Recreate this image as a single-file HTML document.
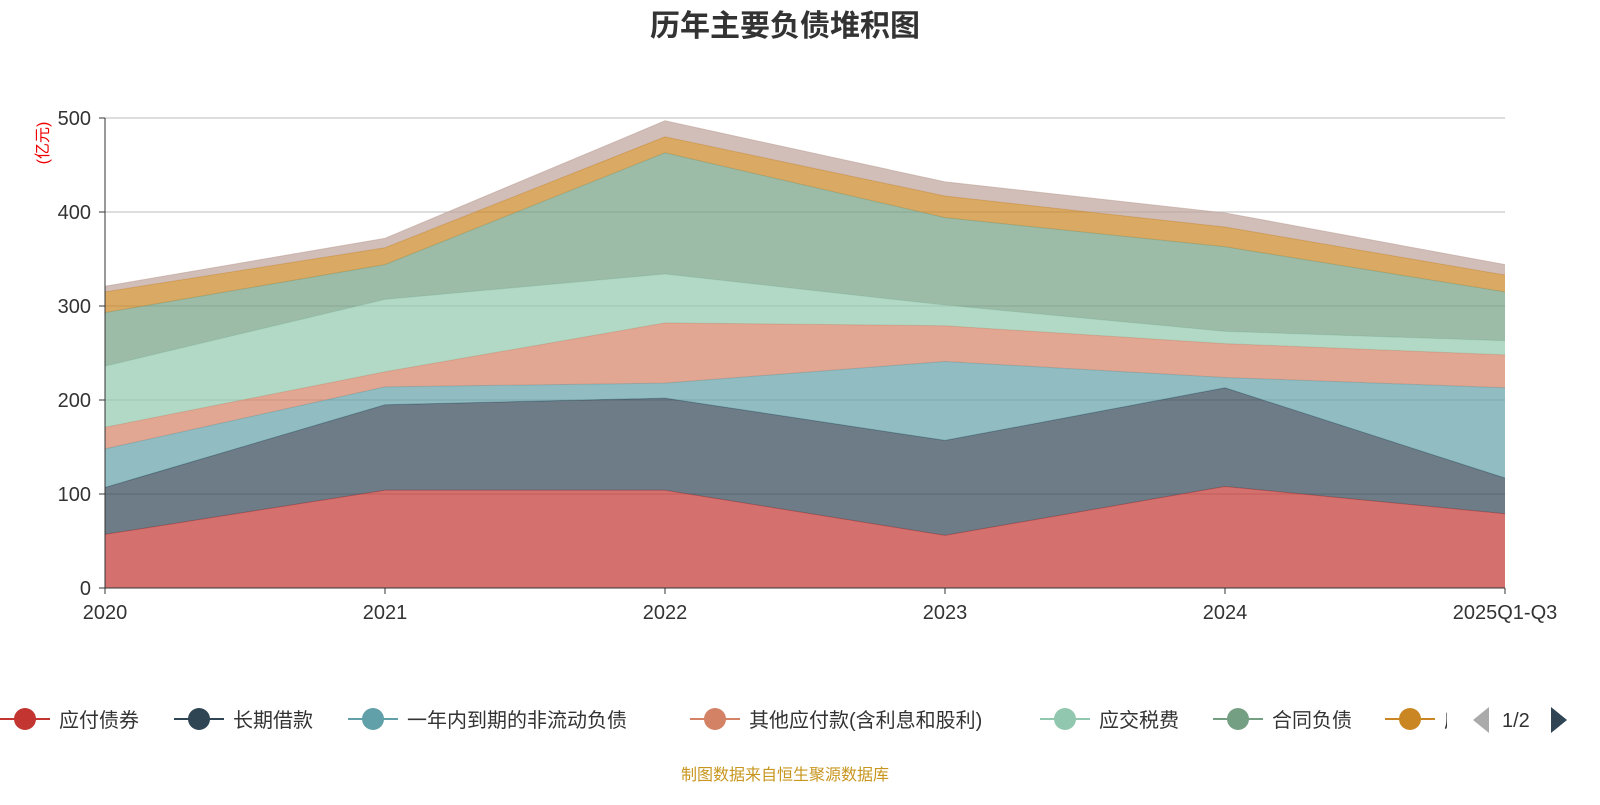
<!DOCTYPE html>
<html><head><meta charset="utf-8"><style>
body{margin:0;background:#fff;font-family:"Liberation Sans","Noto Sans CJK SC",sans-serif}
svg text{font-family:"Liberation Sans","Noto Sans CJK SC",sans-serif}
</style></head><body>
<svg id="c" width="1600" height="800">
<text x="785" y="36" text-anchor="middle" font-size="30" font-weight="bold" fill="#333">历年主要负债堆积图</text>
<text transform="translate(48,143) rotate(-90)" text-anchor="middle" font-size="16" fill="#e00">(亿元)</text>
<g id="grid"></g><g id="areas"></g><g id="axes"></g>
<g id="legend"></g>
<text x="785" y="780" text-anchor="middle" font-size="16" fill="#c8961e">制图数据来自恒生聚源数据库</text>
</svg>
<script>
const categories=["2020","2021","2022","2023","2024","2025Q1-Q3"];
const seriesNames=["应付债券","长期借款","一年内到期的非流动负债","其他应付款(含利息和股利)","应交税费","合同负债","应付账款","其他"];
const s1=[57,104,104,56,108,79];
const s2=[50,91,98,101,105,38];
const s3=[41,19,16,84,11,96];
const s4=[23,16,64,38,36,35];
const s5=[65,77,52,22,13,15];
const s6=[57,37,129,93,90,52];
const s7=[22,18,17,23,21,18];
const s8=[6,10,17,15,15,11];
const yTicks=[0,100,200,300,400,500];
const series=[s1,s2,s3,s4,s5,s6,s7,s8];
const colors=["#c23531","#2f4554","#61a0a8","#d48265","#91c7ae","#749f83","#ca8622","#bda29a"];
const NS="http://www.w3.org/2000/svg";
const X0=105,X1=1505,Y0=588,Y1=118;
const xs=i=>X0+i*(X1-X0)/(categories.length-1);
const ys=v=>Y0-v*(Y0-Y1)/500;
function mk(t,a,p){const e=document.createElementNS(NS,t);for(const k in a)e.setAttribute(k,a[k]);p.appendChild(e);return e;}
const grid=document.getElementById('grid'),axes=document.getElementById('axes'),areas=document.getElementById('areas');
yTicks.forEach(v=>{
 const l=mk('line',{x1:X0,x2:X1,y1:ys(v),y2:ys(v),stroke:'#bbb'},grid);
 
 
 const t=mk('text',{x:X0-14,y:ys(v)+7,'text-anchor':'end','font-size':20,fill:'#333'},axes);t.textContent=v;
 
 
 mk('line',{x1:X0-6,x2:X0,y1:ys(v),y2:ys(v),stroke:'#333'},axes);
});
let base=categories.map(()=>0);
series.forEach((s,k)=>{
 const top=s.map((v,i)=>base[i]+v);
 let d='M'+top.map((v,i)=>xs(i)+','+ys(v)).join(' L');
 for(let i=categories.length-1;i>=0;i--)d+=' L'+xs(i)+','+ys(base[i]);
 const p=mk('path',{d:d+'Z',fill:colors[k],'fill-opacity':0.7,stroke:'none'},areas);
 
 
 const ln=mk('polyline',{points:top.map((v,i)=>xs(i)+','+ys(v)).join(' '),fill:'none',stroke:colors[k],'stroke-opacity':0.6,'stroke-width':1},areas);
 
 
 base=top;
});
mk('line',{x1:X0,x2:X0,y1:Y1,y2:Y0,stroke:'#333'},axes);
mk('line',{x1:X0,x2:X1,y1:Y0,y2:Y0,stroke:'#333'},axes);
categories.forEach((c,i)=>{
 mk('line',{x1:xs(i),x2:xs(i),y1:Y0,y2:Y0+6,stroke:'#333'},axes);
 const t=mk('text',{x:xs(i),y:Y0+31,'text-anchor':'middle','font-size':20,fill:'#333'},axes);t.textContent=c;
 
 
});
const lg=document.getElementById('legend');
const lx=[0,174,348,690,1040,1213,1385];
lx.forEach((x,k)=>{
 const g=mk('g',{},lg);
 
 
 mk('line',{x1:x,x2:x+50,y1:719,y2:719,stroke:colors[k],'stroke-width':2},g);
 mk('circle',{cx:x+25,cy:719,r:11,fill:colors[k]},g);
 const t=mk('text',{x:x+59,y:727,'font-size':20,fill:'#333'},g);t.textContent=seriesNames[k];
});
mk('rect',{x:1447,y:700,width:153,height:40,fill:'#fff'},lg);
const pg=mk('g',{},lg);


mk('path',{d:'M1489,707 L1489,733 L1473,720 Z',fill:'#aaa'},pg);
const pt=mk('text',{x:1502,y:727,'font-size':20,fill:'#333'},pg);pt.textContent='1/2';
mk('path',{d:'M1551,707 L1551,733 L1567,720 Z',fill:'#2f4554'},pg);
</script>
</body></html>
